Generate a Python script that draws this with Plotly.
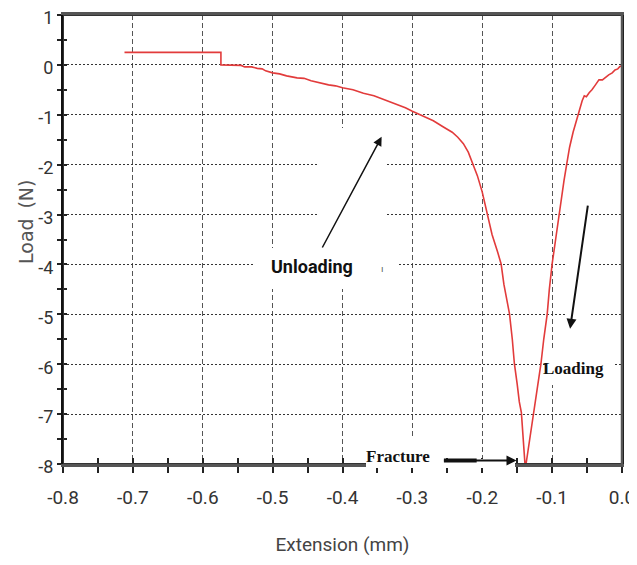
import plotly.graph_objects as go

# ---- data ----
extension = [-0.712, -0.574, -0.574, -0.56, -0.545, -0.54, -0.53, -0.522, -0.515, -0.51,
             -0.50, -0.49, -0.48, -0.465, -0.455, -0.445, -0.433, -0.42, -0.41, -0.40,
             -0.385, -0.37, -0.355, -0.34, -0.325, -0.31, -0.30, -0.285, -0.27, -0.255,
             -0.243, -0.235, -0.227, -0.22, -0.214, -0.207, -0.200, -0.193, -0.186, -0.178,
             -0.173, -0.169, -0.165, -0.161, -0.157, -0.154, -0.150, -0.147, -0.144, -0.141,
             -0.139, -0.137, -0.133, -0.129, -0.126, -0.122, -0.119, -0.116, -0.112, -0.107,
             -0.104, -0.100, -0.095, -0.090, -0.086, -0.083, -0.079, -0.075, -0.070, -0.065,
             -0.061, -0.057, -0.054, -0.051, -0.047, -0.043, -0.038, -0.033, -0.028, -0.024,
             -0.019, -0.014, -0.010, -0.006, -0.003, 0.0]
load = [0.25, 0.25, 0.0, 0.0, -0.01, -0.04, -0.04, -0.07, -0.08, -0.12,
        -0.16, -0.18, -0.22, -0.26, -0.27, -0.32, -0.36, -0.40, -0.42, -0.46,
        -0.50, -0.57, -0.62, -0.70, -0.78, -0.86, -0.93, -1.02, -1.12, -1.25,
        -1.35, -1.45, -1.58, -1.75, -1.98, -2.22, -2.55, -2.99, -3.40, -3.75,
        -3.99, -4.40, -4.70, -4.99, -5.50, -5.99, -6.40, -6.75, -6.97, -7.50,
        -7.97, -7.97, -7.60, -7.25, -6.97, -6.60, -6.30, -5.99, -5.50, -4.99,
        -4.50, -3.99, -3.50, -2.99, -2.60, -2.32, -1.98, -1.65, -1.35, -1.10,
        -0.92, -0.72, -0.62, -0.64, -0.56, -0.50, -0.40, -0.30, -0.30, -0.25,
        -0.20, -0.16, -0.10, -0.08, -0.03, -0.02]

x_tickvals = [-0.8, -0.7, -0.6, -0.5, -0.4, -0.3, -0.2, -0.1, 0.0]
x_ticktext = ["-0.8", "-0.7", "-0.6", "-0.5", "-0.4", "-0.3", "-0.2", "-0.1", "0.0"]
y_tickvals = [1, 0, -1, -2, -3, -4, -5, -6, -7, -8]
y_ticktext = ["1", "0", "-1", "-2", "-3", "-4", "-5", "-6", "-7", "-8"]

x_range = [-0.8, 0.0]
y_range = [-8, 1]

SANS = "Roboto, Liberation Sans, sans-serif"
SERIF = "Liberation Serif, Times New Roman, serif"

fig = go.Figure()
fig.add_trace(go.Scatter(x=extension, y=load, mode="lines",
                         line=dict(color="#e23b3b", width=1.6),
                         hoverinfo="skip", showlegend=False))
# empty helper trace so the overlay (inside-tick) axes exist
fig.add_trace(go.Scatter(x=[], y=[], xaxis="x2", yaxis="y2", showlegend=False))

fig.update_layout(
    width=629, height=557,
    margin=dict(l=55, r=15, t=7, b=101, autoexpand=False),
    paper_bgcolor="white", plot_bgcolor="white",
    showlegend=False,
    xaxis=dict(range=x_range, tickvals=x_tickvals, ticktext=x_ticktext,
               ticks="outside", ticklen=6, tickwidth=1.5, tickcolor="#222",
               minor=dict(dtick=0.05, tick0=0, ticks="outside", ticklen=6,
                          tickwidth=1.5, tickcolor="#222", showgrid=False),
               showgrid=True, gridcolor="#555", gridwidth=1, griddash="5px,3px",
               showline=True, linecolor="#555", linewidth=3, zeroline=False,
               mirror=True,
               automargin=False, tickfont=dict(family=SANS, size=19, color="#333"),
               ticklabelstandoff=8, ticklabeloverflow="allow",
               title=dict(text="Extension (mm)", standoff=30,
                          font=dict(family=SANS, size=19, color="#444"))),
    yaxis=dict(range=y_range, tickvals=y_tickvals, ticktext=y_ticktext,
               ticks="outside", ticklen=4, tickwidth=1.5, tickcolor="#222",
               minor=dict(dtick=0.5, tick0=0, ticks="outside", ticklen=4,
                          tickwidth=1.5, tickcolor="#222", showgrid=False),
               showgrid=True, gridcolor="#333", gridwidth=1.4, griddash="2px,2px",
               showline=True, linecolor="#111", linewidth=2, mirror=True,
               zeroline=False, automargin=False,
               tickfont=dict(family=SANS, size=18, color="#333"),
               ticklabelstandoff=0, ticklabelshift=3, ticklabeloverflow="allow"),
    xaxis2=dict(range=x_range, overlaying="x", anchor="y2", side="bottom",
                tick0=0, dtick=0.05, ticks="inside", ticklen=6, tickwidth=1.5,
                tickcolor="#222", showticklabels=False, showgrid=False,
                showline=False, zeroline=False, automargin=False),
    yaxis2=dict(range=y_range, overlaying="y", anchor="x2", side="left",
                tick0=0, dtick=0.5, ticks="inside", ticklen=4, tickwidth=1.5,
                tickcolor="#222", showticklabels=False, showgrid=False,
                showline=False, zeroline=False, automargin=False),
    shapes=[
        dict(type="rect", xref="x", yref="y", x0=-0.8, x1=0.0, y0=-8, y1=1,
             line=dict(color="#333", width=2), fillcolor="rgba(0,0,0,0)",
             layer="above"),
        dict(type="line", xref="paper", yref="paper", x0=1, x1=1, y0=0, y1=1,
             line=dict(color="#555", width=2.5), layer="above"),
    ],
)

def cover(xc, yc, w, h):
    return dict(x=xc, y=yc, xref="x", yref="y", text=" ", showarrow=False,
                width=w, height=h, bgcolor="white", borderpad=0, borderwidth=0)

annotations = [
    cover(-0.385, -2.866, 67, 160),     # unloading arrow area
    cover(-0.4257, -4.078, 144, 41),    # "Unloading" box
    cover(-0.0636, -3.978, 23, 135),    # loading arrow area
    cover(-0.0600, -6.07, 70, 34),      # "Loading" box
    cover(-0.3207, -7.776, 63, 30),     # "Fracture" box
    cover(-0.2143, -7.986, 86, 9),      # axis under fracture arrow
]
# arrows
annotations += [
    dict(x=-0.344, y=-1.44, ax=-0.43, ay=-3.69, xref="x", yref="y", axref="x", ayref="y",
         text="", showarrow=True, arrowhead=2, arrowsize=1.2, arrowwidth=1.5, arrowcolor="#111"),
    dict(x=-0.0743, y=-5.29, ax=-0.0486, ay=-2.79, xref="x", yref="y", axref="x", ayref="y",
         text="", showarrow=True, arrowhead=2, arrowsize=1.0, arrowwidth=2, arrowcolor="#111"),
    dict(x=-0.151, y=-7.93, ax=-0.257, ay=-7.93, xref="x", yref="y", axref="x", ayref="y",
         text="", showarrow=True, arrowhead=2, arrowsize=1.0, arrowwidth=2, arrowcolor="#111"),
    dict(x=-0.208, y=-7.93, ax=-0.257, ay=-7.93, xref="x", yref="y", axref="x", ayref="y",
         text="", showarrow=True, arrowhead=0, arrowwidth=4, arrowcolor="#111"),
]
# labels
annotations += [
    dict(x=-0.443, y=-4.05, xref="x", yref="y", text="<b>Unloading</b>", showarrow=False,
         font=dict(family=SANS, size=18, color="#111")),
    dict(x=-0.070, y=-6.09, xref="x", yref="y", text="<b>Loading</b>", showarrow=False,
         font=dict(family=SERIF, size=17, color="#111")),
    dict(x=-0.321, y=-7.84, xref="x", yref="y", text="<b>Fracture</b>", showarrow=False,
         font=dict(family=SERIF, size=17, color="#111")),
    dict(x=-0.343, y=-4.09, xref="x", yref="y", text="ı", showarrow=False,
         font=dict(family="DejaVu Sans", size=9, color="#555")),
    # y-axis title
    dict(x=-0.0662, y=0.539, xref="paper", yref="paper", text="Load\u200a \u200a(N)",
         textangle=-90, showarrow=False, xanchor="center", yanchor="middle",
         font=dict(family="DejaVu Sans, sans-serif", size=19, color="#555")),
]
fig.update_layout(annotations=annotations)

fig.write_html("out.html")
